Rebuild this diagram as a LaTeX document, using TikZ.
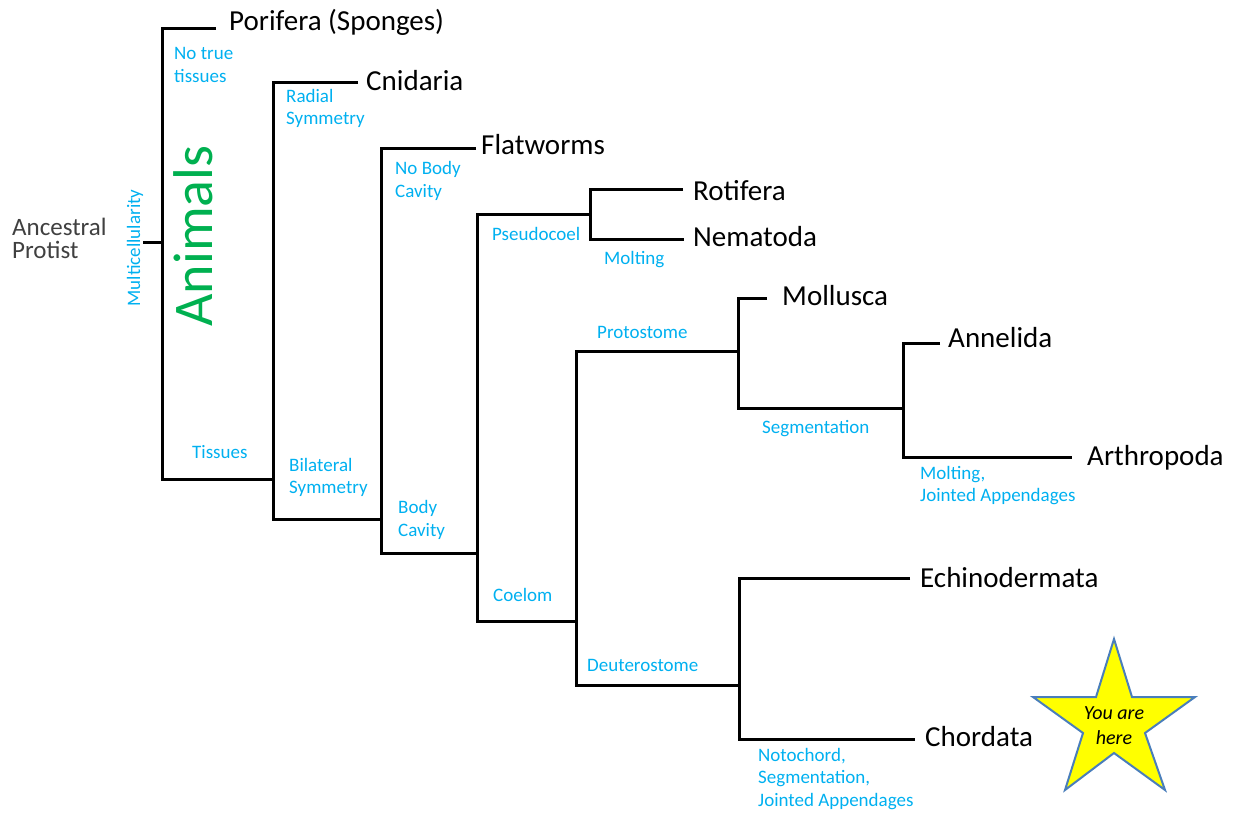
\documentclass[tikz,border=0pt]{standalone}
\usepackage{fontspec}
\setmainfont{Carlito}
\definecolor{lblue}{HTML}{00B0F0}
\definecolor{agreen}{HTML}{00B050}
\definecolor{dgray}{HTML}{404040}
\definecolor{starfill}{HTML}{FFFF00}
\definecolor{starline}{HTML}{4A7EBB}
\begin{document}
\begin{tikzpicture}[x=1pt,y=-1pt,
  br/.style={line width=3pt, line join=miter},
  taxon/.style={anchor=base west, inner sep=0pt, font=\fontsize{29}{34}\selectfont},
  trait/.style={anchor=base west, inner sep=0pt, text=lblue, font=\fontsize{19}{23}\selectfont},
  anc/.style={anchor=base west, inner sep=0pt, text=dgray, font=\fontsize{25}{30}\selectfont},
  starshape/.style={fill=starfill, draw=starline, line width=2pt, line join=miter}
]
\useasboundingbox (0,0) rectangle (1236,812);

% ---- branch coordinates ----
\coordinate (root) at (143,242);
\coordinate (j0) at (162,242);
\coordinate (porE) at (216,28);
\coordinate (a1) at (162,479);
\coordinate (a2) at (273,479);
\coordinate (cniE) at (358,82);
\coordinate (b1) at (273,519);
\coordinate (b2) at (381,519);
\coordinate (flatE) at (476,148);
\coordinate (c1) at (381,553);
\coordinate (c2) at (477,553);
\coordinate (jP) at (590,214);
\coordinate (d1) at (477,621);
\coordinate (d2) at (576,621);
\coordinate (rotE) at (683,189);
\coordinate (e1) at (590,239);
\coordinate (nemE) at (684,239);
\coordinate (jProt) at (738,351);
\coordinate (f1) at (576,685);
\coordinate (jDeut) at (739,685);
\coordinate (molE) at (767,298);
\coordinate (g1) at (738,408);
\coordinate (jSeg) at (903,408);
\coordinate (annE) at (940,343);
\coordinate (h1) at (903,457);
\coordinate (artE) at (1072,457);
\coordinate (echE) at (910,578);
\coordinate (i1) at (739,739);
\coordinate (chorE) at (915,739);

% ---- branches ----
\draw[br] (root) -- (j0);
\draw[br] (porE) -| (a1) -- (a2);
\draw[br] (cniE) -| (b1) -- (b2);
\draw[br] (flatE) -| (c1) -- (c2);
\draw[br] (jP) -| (d1) -- (d2);
\draw[br] (rotE) -| (e1) -- (nemE);
\draw[br] (jProt) -| (f1) -- (jDeut);
\draw[br] (molE) -| (g1) -- (jSeg);
\draw[br] (annE) -| (h1) -- (artE);
\draw[br] (echE) -| (i1) -- (chorE);

% ---- taxa ----
\node[taxon] (porifera) at (229,30) {Porifera (Sponges)};
\node[taxon] (cnidaria) at (366,90) {Cnidaria};
\node[taxon] (flatworms) at (481,154) {Flatworms};
\node[taxon] (rotifera) at (693,200) {Rotifera};
\node[taxon] (nematoda) at (693,246) {Nematoda};
\node[taxon] (mollusca) at (782,305) {Mollusca};
\node[taxon] (annelida) at (948,347) {Annelida};
\node[taxon] (arthropoda) at (1087,465) {Arthropoda};
\node[taxon] (echinodermata) at (920,587) {Echinodermata};
\node[taxon] (chordata) at (925,746) {Chordata};

\node[anc] (ancestral1) at (12,235) {Ancestral};
\node[anc] (ancestral2) at (12,258) {Protist};

% ---- traits ----
\node[trait] (nt1) at (174,59) {No true};
\node[trait] (nt2) at (174,82) {tissues};
\node[trait] (rs1) at (286,102) {Radial};
\node[trait] (rs2) at (286,124) {Symmetry};
\node[trait] (nb1) at (395,174) {No Body};
\node[trait] (nb2) at (395,197) {Cavity};
\node[trait] (tis) at (192,458) {Tissues};
\node[trait] (bs1) at (289,471) {Bilateral};
\node[trait] (bs2) at (289,493) {Symmetry};
\node[trait] (bc1) at (398,513) {Body};
\node[trait] (bc2) at (398,536) {Cavity};
\node[trait] (pseudo) at (492,240) {Pseudocoel};
\node[trait] (molt) at (604,264) {Molting};
\node[trait] (proto) at (597,338) {Protostome};
\node[trait] (seg) at (762,433) {Segmentation};
\node[trait] (mj1) at (920,479) {Molting,};
\node[trait] (mj2) at (920,501) {Jointed Appendages};
\node[trait] (coelom) at (493,601) {Coelom};
\node[trait] (deut) at (587,671) {Deuterostome};
\node[trait] (nsj1) at (758,761) {Notochord,};
\node[trait] (nsj2) at (758,783) {Segmentation,};
\node[trait] (nsj3) at (758,806) {Jointed Appendages};

\node[inner sep=0pt, text=lblue, font=\fontsize{19}{23}\selectfont, rotate=90] (multi) at (135,248) {Multicellularity};
\node[inner sep=0pt, text=agreen, font=\fontsize{56}{60}\selectfont, rotate=90] (animals) at (193,236) {Animals};

% ---- star ----
\draw[starshape] (1114,639) -- (1132,697) -- (1195,697) -- (1145,733) -- (1165,790)
  -- (1114,753) -- (1065,790) -- (1083,733) -- (1033,697) -- (1096,697) -- cycle;
\node[align=center, inner sep=0pt, font=\fontsize{20}{25}\selectfont\itshape] (here) at (1114,726) {You are\\here};
\end{tikzpicture}
\end{document}
